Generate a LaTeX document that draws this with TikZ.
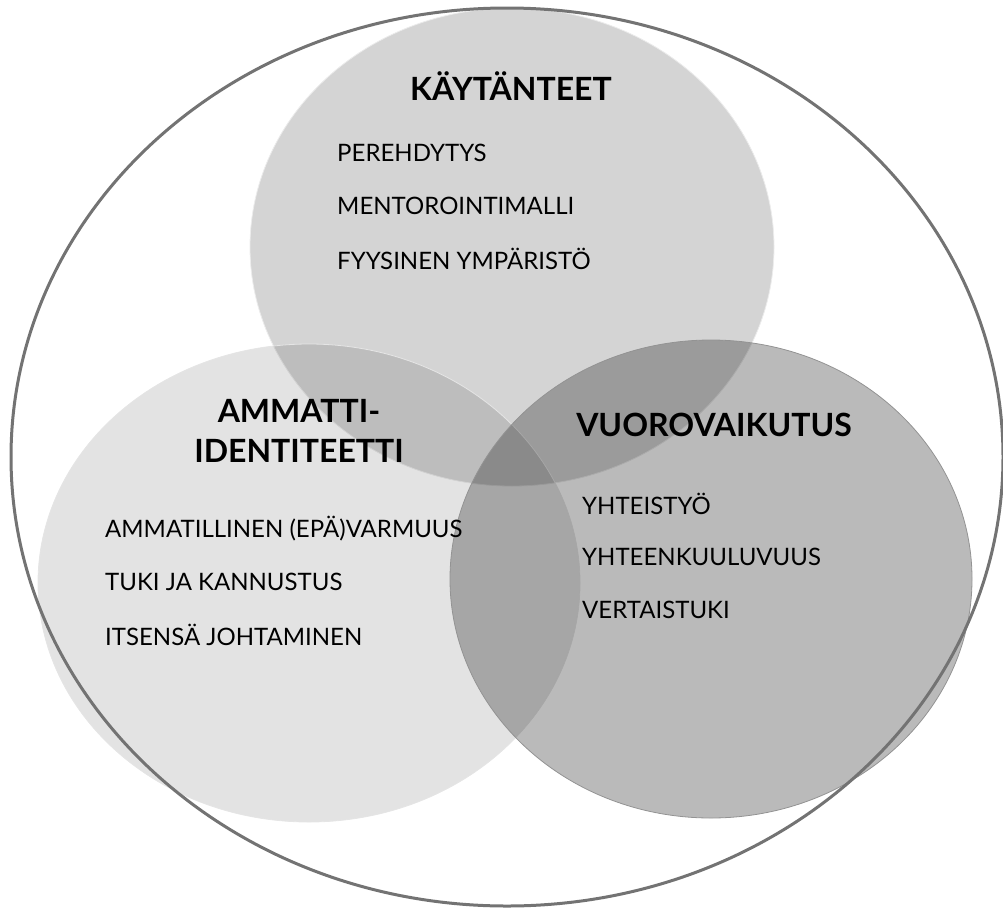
\documentclass[tikz,border=0pt]{standalone}
\usepackage{fontspec}
\setmainfont{Lato}
\usetikzlibrary{shapes.geometric}
\def\itemsep{53}
\tikzset{
	every node/.style={
		font=\fontsize{24}{28}\selectfont
	},
	piiri/.style={
		shape=ellipse,
		inner sep=0pt,
		fill=black,
		fill opacity=#1,
		draw=gray!70,
		line width=0.8pt
	},
	otsikko/.style={
		font=\fontsize{32}{40}\selectfont\bfseries,
		align=center
	},
	kohta/.style={
		anchor=west,
		inner sep=0pt
	}
}

\begin{document}
\begin{tikzpicture}[x=1pt,y=-1pt]
	\useasboundingbox (0,0) rectangle (1003,910);
	
	% kolme ympyrää
	\node[piiri=0.17, draw=white!85!gray, minimum width=524pt, minimum height=478pt] (kaytannot) at (512,247) {};
	\node[piiri=0.11, draw=gray!20, minimum width=542pt, minimum height=478pt] (ammatti) at (309,583) {};
	\node[piiri=0.27, draw=gray!85, minimum width=522pt, minimum height=478pt] (vuoro) at (711,579) {};
	
	% ulkoinen kehä
	\node[shape=ellipse, draw=gray!90!black, line width=3pt, minimum width=992pt, minimum height=898pt, inner sep=0pt] (kehys) at (507,457) {};
	
	% otsikot
	\node[otsikko] (kaytannotOts) at (511,86) {KÄYTÄNTEET};
	\node[otsikko] (ammattiOts) at (299,431) {AMMATTI-\\IDENTITEETTI};
	\node[otsikko] (vuoroOts) at (714,425) {VUOROVAIKUTUS};
	
	% kohdat
	\foreach \teksti [count=\i] in {PEREHDYTYS, MENTOROINTIMALLI, FYYSINEN YMPÄRISTÖ}
	\node[kohta] (K-\i) at (337,153+\itemsep*\i-\itemsep) {\teksti};
	
	\foreach \teksti [count=\i] in {AMMATILLINEN (EPÄ)VARMUUS, TUKI JA KANNUSTUS, ITSENSÄ JOHTAMINEN}
	\node[kohta] (A-\i) at (105,529+\itemsep*\i-\itemsep) {\teksti};
	
	\foreach \teksti [count=\i] in {YHTEISTYÖ, YHTEENKUULUVUUS, VERTAISTUKI}
	\node[kohta] (V-\i) at (582,504+\itemsep*\i-\itemsep) {\teksti};
\end{tikzpicture}
\end{document}
